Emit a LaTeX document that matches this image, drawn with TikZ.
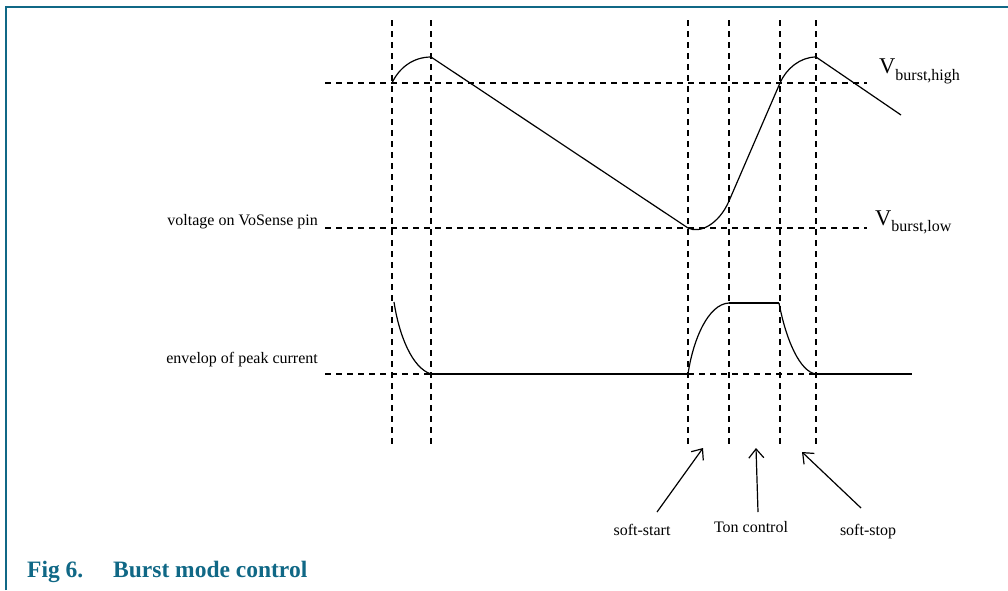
\documentclass[tikz,border=0pt]{standalone}
\usepackage{fontspec}
\setmainfont{Liberation Serif}
\usetikzlibrary{arrows.meta}
\definecolor{nxpblue}{RGB}{16,104,134}
\tikzset{
  gridline/.style={line width=2pt, dash pattern=on 6pt off 5pt},
  waveline/.style={line width=1.2pt},
  flatline/.style={line width=2pt},
  pointer/.style={line width=1.2pt, -{Straight Barb[length=9pt,width=15pt]}},
  lbl/.style={font=\fontsize{16}{19}\selectfont, inner sep=0pt},
  vlbl/.style={font=\fontsize{22.5}{26}\selectfont, inner sep=0pt},
  captxt/.style={font=\fontsize{23.5}{28}\selectfont\bfseries, text=nxpblue, inner sep=0pt},
  framebox/.style={line width=1.3pt, draw=nxpblue}
}
\begin{document}
\begin{tikzpicture}[x=1pt,y=-1pt]
\useasboundingbox (0,0) rectangle (1008,590);
% frame
\draw[framebox] (6,590) -- (6,7) -- (1008,7);
% vertical dashed lines
\foreach \x/\n in {392/a,431/b,688/c,729/d,780/e,816/f}{
  \coordinate (top\n) at (\x,20);
  \coordinate (bot\n) at (\x,448);
  \draw[gridline] (top\n) -- (bot\n);
}
% horizontal dashed lines
\coordinate (h1l) at (325,83);  \coordinate (h1r) at (867,83);
\coordinate (h2l) at (325,228); \coordinate (h2r) at (867,228);
\coordinate (h3l) at (325,374); \coordinate (h3r) at (912,374);
\draw[gridline] (h1l) -- (h1r);
\draw[gridline] (h2l) -- (h2r);
\draw[gridline] (h3l) -- (h3r);
% voltage waveform
\coordinate (v0) at (392,83);
\coordinate (v1) at (431,57);
\coordinate (v2) at (688,228);
\coordinate (v3) at (729,201);
\coordinate (v4) at (780,83);
\coordinate (v5) at (816,57);
\coordinate (v6) at (901,115);
\draw[waveline] (v0) .. controls (399,68) and (413,57) .. (v1) -- (v2)
  .. controls (700,234) and (719,224) .. (v3) -- (v4)
  .. controls (786,69) and (800,57) .. (v5) -- (v6);
% current envelope
\coordinate (c0) at (394,302);
\coordinate (c1) at (431,374);
\coordinate (c2) at (688,374);
\coordinate (c3) at (729,303);
\coordinate (c4) at (779,303);
\coordinate (c5) at (816,374);
\coordinate (c6) at (912,374);
\draw[waveline] (c0) .. controls (399,335) and (412,368) .. (c1);
\draw[flatline] (c1) -- (c2);
\draw[waveline] (c2) .. controls (693,340) and (708,304) .. (c3);
\draw[flatline] (c3) -- (c4);
\draw[waveline] (c4) .. controls (786,340) and (800,372) .. (c5);
\draw[flatline] (c5) -- (c6);
% labels
\node[lbl, anchor=base east] (vlab) at (318,225) {voltage on VoSense pin};
\node[lbl, anchor=base east] (ilab) at (318,363) {envelop of peak current};
\node[vlbl, anchor=base west] (vh) at (879,73) {V\raisebox{-7pt}{\fontsize{16}{19}\selectfont burst,high}};
\node[vlbl, anchor=base west] (vl) at (875,225) {V\raisebox{-6pt}{\fontsize{16}{19}\selectfont burst,low}};
% arrows
\node[lbl, anchor=base] (ss) at (642,535) {soft-start};
\node[lbl, anchor=base] (ton) at (751,532) {Ton control};
\node[lbl, anchor=base] (sp) at (868,535) {soft-stop};
\coordinate (ssT) at (657,512);  \coordinate (ssH) at (703,448);
\coordinate (tonT) at (758,512); \coordinate (tonH) at (756,448);
\coordinate (spT) at (861,508);  \coordinate (spH) at (802,452);
\draw[pointer] (ssT) -- (ssH);
\draw[pointer] (tonT) -- (tonH);
\draw[pointer] (spT) -- (spH);
% caption
\node[captxt, anchor=base west] (fig) at (27,577) {Fig 6.};
\node[captxt, anchor=base west] (title) at (113,577) {Burst mode control};
\end{tikzpicture}
\end{document}
